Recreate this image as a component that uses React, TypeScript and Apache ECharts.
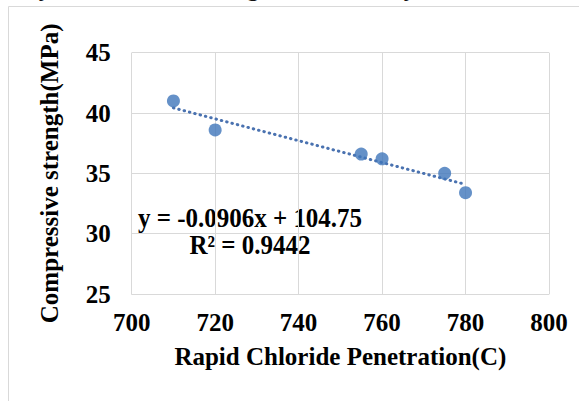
import React, { useEffect, useRef } from "react";
import * as echarts from "echarts";

const rcpt = [710, 720, 755, 760, 775, 780];
const strength = [41.0, 38.6, 36.6, 36.2, 35.0, 33.4];
const xTicks = [700, 720, 740, 760, 780, 800];
const yTicks = [25, 30, 35, 40, 45];
const slope = -0.0906;
const intercept = 104.75;
const eqLines = ["y = -0.0906x + 104.75", "R² = 0.9442"];
const xTitle = "Rapid Chloride Penetration(C)";
const yTitle = "Compressive strength(MPa)";
const captionText = "Similarly, the concrete strength increased by RCPT.";

const FONT = '"Liberation Serif", "Times New Roman", serif';

export default function App() {
  const ref = useRef<HTMLDivElement>(null);
  useEffect(() => {
    if (!ref.current) return;
    const chart = echarts.init(ref.current, null, { renderer: "svg" });
    const xMin = Math.min(...rcpt);
    const xMax = Math.max(...rcpt);
    const trend = [
      [xMin, slope * xMin + intercept],
      [xMax, slope * xMax + intercept],
    ];
    chart.setOption({
      animation: false,
      backgroundColor: "#ffffff",
      grid: { left: 131.7, right: 30, top: 52.7, bottom: 107, containLabel: false },
      xAxis: {
        type: "value",
        min: xTicks[0],
        max: xTicks[xTicks.length - 1],
        interval: 20,
        name: xTitle,
        nameLocation: "middle",
        nameGap: 50,
        nameTextStyle: { fontFamily: FONT, fontWeight: "bold", fontSize: 25, color: "#000" },
        axisLine: { show: true, lineStyle: { color: "#D9D9D9", width: 1 } },
        axisTick: { show: false },
        splitLine: { show: true, lineStyle: { color: "#D9D9D9", width: 1 } },
        axisLabel: { fontFamily: FONT, fontWeight: "bold", fontSize: 25, color: "#000", margin: 16 },
      },
      yAxis: {
        type: "value",
        min: yTicks[0],
        max: yTicks[yTicks.length - 1],
        interval: 5,
        name: yTitle,
        nameLocation: "middle",
        nameGap: 70,
        nameTextStyle: { fontFamily: FONT, fontWeight: "bold", fontSize: 25, color: "#000" },
        axisLine: { show: false },
        axisTick: { show: false },
        splitLine: { show: true, lineStyle: { color: "#D9D9D9", width: 1 } },
        axisLabel: { fontFamily: FONT, fontWeight: "bold", fontSize: 25, color: "#000", margin: 21 },
      },
      series: [
        {
          type: "line",
          name: "Trend",
          data: trend,
          symbol: "none",
          lineStyle: { color: "#4A72B0", width: 3, type: [0.5, 5], cap: "round" },
          z: 2,
        },
        {
          type: "scatter",
          name: "Data",
          data: rcpt.map((x, i) => [x, strength[i]]),
          symbolSize: 13,
          itemStyle: { color: "#3F75BA" },
          z: 3,
        },
      ],
      graphic: [
        {
          type: "rect",
          shape: { x: 8.5, y: 6.5, width: 700, height: 500 },
          style: { fill: "none", stroke: "#D9D9D9", lineWidth: 1 },
          z: -1,
        },
        {
          type: "text",
          x: -45,
          y: 0,
          style: {
            text: captionText,
            fontFamily: FONT,
            fontSize: 26,
            fill: "#111",
            align: "left",
            verticalAlign: "bottom",
          },
        },
        {
          type: "text",
          x: 250,
          y: 218,
          scaleY: 1.08,
          style: {
            text: eqLines[0],
            fontFamily: FONT,
            fontWeight: "bold",
            fontSize: 25,
            fill: "#000",
            align: "center",
            verticalAlign: "middle",
          },
        },
        {
          type: "text",
          x: 250,
          y: 245,
          scaleY: 1.08,
          style: {
            text: eqLines[1],
            fontFamily: FONT,
            fontWeight: "bold",
            fontSize: 25,
            fill: "#000",
            align: "center",
            verticalAlign: "middle",
          },
        },
      ],
    });
    return () => chart.dispose();
  }, []);
  return (
    <div
      ref={ref}
      style={{ position: "absolute", left: 0, top: 0, width: 579, height: 401 }}
    />
  );
}
